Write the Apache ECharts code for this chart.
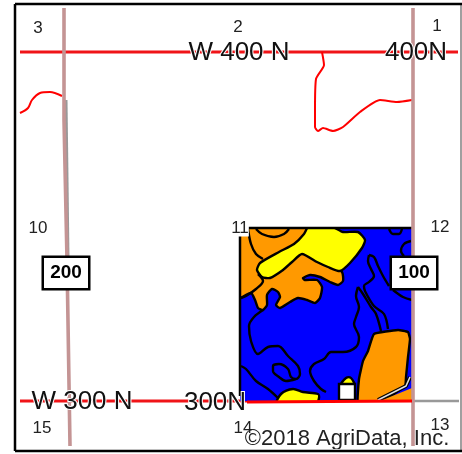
<!DOCTYPE html>
<html><head><meta charset="utf-8">
<style>html,body{margin:0;padding:0;background:#fff}#c{width:462px;height:454px}</style>
<script src="https://cdn.jsdelivr.net/npm/echarts@6/dist/echarts.min.js"></script>
</head><body><div id="c"></div>
<script>
const field=[[240,228],[412,228],[412,401],[240,401]];
const orangeWest=[[236,222],[312,222],[312,240],[342,272],[343,281],[338,285],[330,282],[320,277],[310,275],[303,278],[305,280],[317,280],[322,287],[320,298],[315,303],[307,300],[298,298],[290,302],[280,308],[276,305],[280,297],[278,292],[272,289],[267,295],[267,305],[263,310],[258,308],[255,300],[251,293],[240,298],[236,298]];
const yellowNorth=[[310,224],[333,227],[343,232],[358,232],[365,240],[362,248],[350,263],[340,271],[328,267],[317,262],[302,254],[292,262],[283,270],[270,278],[262,277],[257,270],[260,263],[279,252],[294,244],[304,234]];
const yellowSouth=[[277,404],[281,394],[293,389],[303,392],[318,394],[319,398],[316,404]];
const orangeEast=[[358,404],[359,379],[363,361],[368,351],[374,334],[398,330],[408,332],[410,339],[408,357],[406,377],[405,386],[378,404]];
const orangeCorner=[[380,401],[412,388],[412,401]];
const yellowCap=[[341,386],[346,378],[351,378],[354,386]];
const soilLines=[
 [[248,229],[251,244],[256,254],[263,259]],
 [[256,229],[262,234],[274,237],[284,234],[289,229]],
 [[258,274],[263,281],[256,289],[246,296],[241,298]],
 [[389,229],[393,234],[399,234],[402,229]],
 [[411,241],[404,244],[401,251],[404,256]],
 [[358,287],[356,296],[359,307],[356,317],[354,324],[359,337],[356,347],[343,352],[331,352],[324,359],[314,364],[310,371],[314,381],[321,389],[326,392]],
 [[358,287],[363,294],[371,307],[376,314],[381,331]],
 [[369,255],[368,261],[371,269],[374,276],[369,282],[364,286],[365,291],[374,306],[384,314],[388,329]],
 [[369,255],[374,257],[378,266],[383,276],[389,286]],
 [[393,290],[403,297],[412,300]],
 [[263,310],[254,317],[249,326],[251,341],[258,354],[268,347],[278,346],[288,356],[298,366],[300,374],[296,379],[291,377],[288,369],[279,364],[273,366],[273,371],[279,377],[286,381],[296,379]],
 [[241,366],[246,369],[256,381],[268,389],[278,398]]
];
const farmRoad=[[378,400],[406,386],[410,377]];
const building=[[339,384],[355,384],[355,400],[339,400]];
const westRoad=[[64,8],[64,120],[67,260],[70,446]];
const westRoadShade=[[66,100],[68,260]];
const eastRoad=[[413,8],[413,446]];
const grayRoad=[[412,401],[459,401]];
const northRoad=[[20,52],[458,52]];
const southRoad=[[20,401],[247,401]];
const southField=[[247,402],[412,401]];
const creekWest=[[20,113],[28,108],[32,100],[40,93],[50,92],[62,96]];
const creekEast=[[322,52],[324,65],[316,79],[315,110],[315,127],[318,131],[323,128],[333,131],[343,127],[360,112],[380,100],[397,102],[412,100]];
const frame=[[15,4],[462,4]];
const frameLeft=[[15,4],[15,451]];
const frameBottom=[[15,451],[462,451]];
const frameRight=[[461,4],[461,451]];
const sectionLabels=[['3',38,28],['2',238,27],['1',437,26],['10',38,228],['12',440,227],['15',42,428],['14',243,428],['13',440,425]];
const roadLabels=[['W 400 N',239,53],['400N',416,53],['W 300 N',82,402],['300N',215,403]];
const shieldLabels=[['200',66,273],['100',414,273]];
const section11=['11',240,228];
const credit=['©2018 AgriData, Inc.',347,439];

const fieldClip=api=>{const a=api.coord(field[0]),b=api.coord(field[2]);
 return {type:'rect',shape:{x:a[0],y:a[1],width:b[0]-a[0],height:b[1]-a[1]}};};
const poly=(pts,fill,opt={})=>({type:'custom',coordinateSystem:'cartesian2d',z:opt.z||3,silent:true,
 data:[pts[0]],clip:false,
 renderItem:(p,api)=>({type:'polygon',clipPath:fieldClip(api),shape:{points:pts.map(q=>api.coord(q)),smooth:opt.smooth||0},
  style:{fill:fill,stroke:'#000',lineWidth:opt.lw===undefined?2.4:opt.lw}})});
const line=(pts,color,w,z,smooth)=>({type:'line',data:pts,showSymbol:false,smooth:smooth||0,z:z,silent:true,clip:false,
 lineStyle:{color:color,width:w,cap:'butt'}});
const text=(arr,style,z)=>({type:'scatter',symbolSize:0,z:z,silent:true,clip:false,itemStyle:{opacity:1},
 data:arr.map(a=>({value:[a[1],a[2]],name:a[0]})),
 label:Object.assign({show:true,position:'inside',formatter:'{b}',fontFamily:'Liberation Sans',align:'center',verticalAlign:'middle',opacity:1},style)});

const series=[
 line(northRoad,'#f01418',3,2),
 line(southRoad,'#f01418',3,2),
 line(grayRoad,'#999999',2.4,2),
 line(westRoadShade,'#999999',3,2),
 line(westRoad,'#c49494',3.6,3),
 line(creekWest,'#ff0000',2,2,0.3),
 line(creekEast,'#ff0000',2,2,0.2),
 poly(field,'#0000ff',{z:3,lw:0}),
 poly(orangeWest,'#ff9900',{z:4,smooth:0.2}),
 poly(yellowNorth,'#ffff00',{z:5,smooth:0.2}),
 poly(orangeEast,'#ff9900',{z:4,smooth:0.12}),
 poly(orangeCorner,'#ff9900',{z:4,lw:0}),
 poly(yellowSouth,'#ffff00',{z:4,smooth:0.3}),
 poly(yellowCap,'#ffff00',{z:4,smooth:0.4}),
 poly(building,'#ffffff',{z:5}),
 line(farmRoad,'#000',4,6),
 line(farmRoad,'#dddddd',1.6,6),
 line(eastRoad,'#c49494',3.6,7)
];
soilLines.forEach(s=>series.push(line(s,'#000',2.4,6,0.35)));
series.push(
 line([[240,228],[412,228]],'#000',2.5,6),
 line([[240,228],[240,396]],'#000',2.5,6),
 line(southField,'#ff0000',3,7),
 text(sectionLabels,{fontSize:17,color:'#222'},8),
 text([section11],{fontSize:17,color:'#222',backgroundColor:'#fff'},8),
 text(roadLabels,{fontSize:26,color:'#111',textBorderColor:'#fff',textBorderWidth:2},8),
 text(shieldLabels,{fontSize:19,fontWeight:'bold',color:'#000',backgroundColor:'#fff',borderColor:'#000',borderWidth:2.5,width:44,height:30,lineHeight:30},8),
 text([credit],{fontSize:22,color:'#222'},8),
 line(frameBottom,'#ffffff',4,9),
 line(frameRight,'#777777',1.4,10),
 line(frame,'#000',2.5,10),
 line(frameLeft,'#000',2.5,10),
 line(frameBottom,'#000',2.5,10)
);
const chart=echarts.init(document.getElementById('c'),null,{renderer:'canvas'});
chart.setOption({animation:false,backgroundColor:'#fff',
 grid:{left:0,right:0,top:0,bottom:0},
 xAxis:{type:'value',min:0,max:462,show:false},
 yAxis:{type:'value',min:0,max:454,inverse:true,show:false},
 series:series});
</script></body></html>
